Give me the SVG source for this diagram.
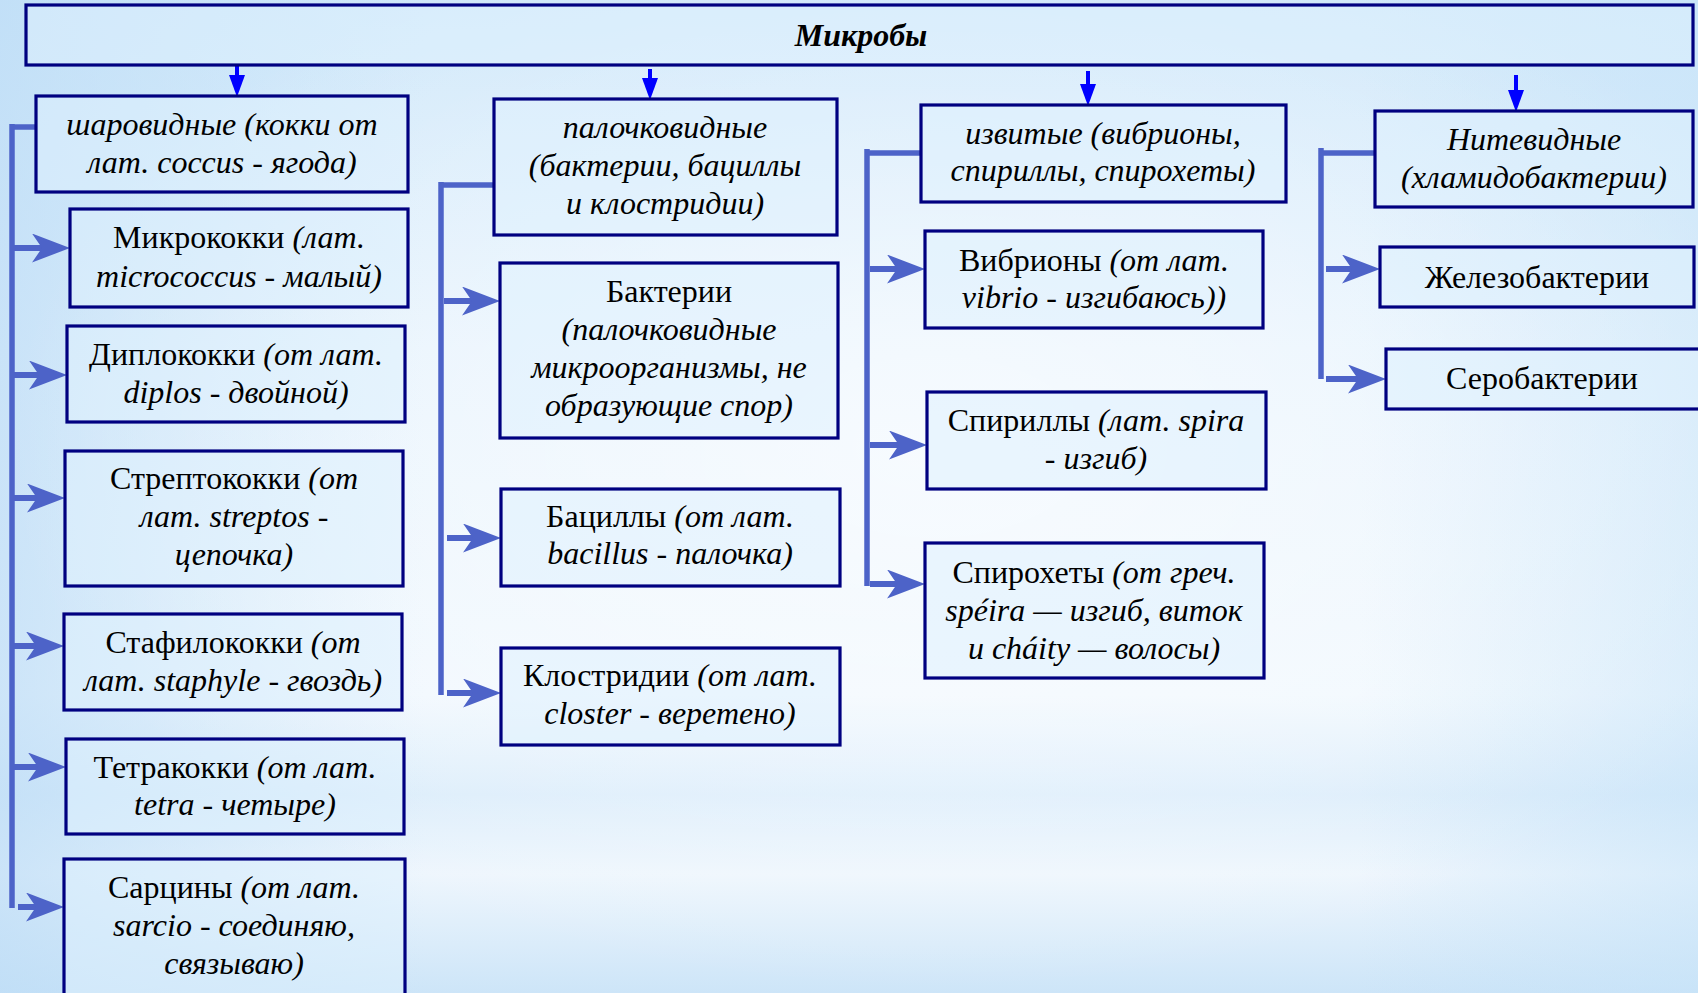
<svg xmlns="http://www.w3.org/2000/svg" width="1698" height="993" viewBox="0 0 1698 993">
<defs>
<linearGradient id="bgv" x1="0" y1="0" x2="0" y2="1">
<stop offset="0" stop-color="#d0e8fa"/>
<stop offset="0.35" stop-color="#e7f3fd"/>
<stop offset="0.7" stop-color="#f1f8fe"/>
<stop offset="0.8" stop-color="#dcedfb"/>
<stop offset="0.88" stop-color="#eef6fd"/>
<stop offset="1" stop-color="#cde5f8"/>
</linearGradient>
<radialGradient id="bgr" cx="0.55" cy="0.45" r="0.55">
<stop offset="0" stop-color="#ffffff" stop-opacity="0.6"/>
<stop offset="1" stop-color="#ffffff" stop-opacity="0"/>
</radialGradient>
<linearGradient id="bgl" x1="0" y1="0" x2="1" y2="0">
<stop offset="0" stop-color="#bcdcf6" stop-opacity="0.7"/>
<stop offset="0.25" stop-color="#bfdff7" stop-opacity="0"/>
<stop offset="0.8" stop-color="#bfdff7" stop-opacity="0"/>
<stop offset="1" stop-color="#c4e2f8" stop-opacity="0.5"/>
</linearGradient>
<marker id="ah" markerUnits="userSpaceOnUse" markerWidth="38" markerHeight="29" viewBox="0 0 38 29" refX="14" refY="14.5" orient="auto">
<path d="M0,0 L38,14.5 L0,29 L10,14.5 Z" fill="#4d63c8"/>
</marker>
<marker id="ab" markerUnits="userSpaceOnUse" markerWidth="22" markerHeight="16" viewBox="0 0 22 16" refX="2" refY="8" orient="auto">
<path d="M0,0 L22,8 L0,16 Z" fill="#0000ff"/>
</marker>
<style>
.box{fill:#dff0fd;fill-opacity:0.55;stroke:#000080;stroke-width:3.2}
.t{font-family:"Liberation Serif","Times New Roman",serif;font-size:32px;fill:#000;text-anchor:middle}
.i{font-style:italic}
.ttl{font-weight:bold;font-style:italic}
.cn{stroke:#4d63c8;fill:none}
.v{stroke-width:5.5}
.h{stroke-width:6}
.top{stroke:#0000ff;stroke-width:4;fill:none}
</style>
</defs>
<rect x="0" y="0" width="1698" height="993" fill="url(#bgv)"/>
<rect x="0" y="0" width="1698" height="993" fill="url(#bgl)"/>
<rect x="0" y="0" width="1698" height="993" fill="url(#bgr)"/>

<g id="connectors">
<line class="top" x1="237" y1="65" x2="237" y2="77" marker-end="url(#ab)"/>
<line class="top" x1="650" y1="69" x2="650" y2="80" marker-end="url(#ab)"/>
<line class="top" x1="1088" y1="71" x2="1088" y2="86" marker-end="url(#ab)"/>
<line class="top" x1="1516" y1="75" x2="1516" y2="92" marker-end="url(#ab)"/>

<path class="cn v" d="M12,124 V908"/>
<path class="cn v" d="M12,127 H36"/>
<line class="cn h" x1="14" y1="248" x2="46" y2="248" marker-end="url(#ah)"/>
<line class="cn h" x1="14" y1="375" x2="43" y2="375" marker-end="url(#ah)"/>
<line class="cn h" x1="14" y1="498" x2="41" y2="498" marker-end="url(#ah)"/>
<line class="cn h" x1="14" y1="646" x2="40" y2="646" marker-end="url(#ah)"/>
<line class="cn h" x1="14" y1="767" x2="42" y2="767" marker-end="url(#ah)"/>
<line class="cn h" x1="18" y1="907" x2="40" y2="907" marker-end="url(#ah)"/>

<path class="cn v" d="M441,182 V695"/>
<path class="cn v" d="M441,185 H494"/>
<line class="cn h" x1="444" y1="301" x2="476" y2="301" marker-end="url(#ah)"/>
<line class="cn h" x1="447" y1="538" x2="477" y2="538" marker-end="url(#ah)"/>
<line class="cn h" x1="447" y1="693" x2="477" y2="693" marker-end="url(#ah)"/>

<path class="cn v" d="M867,149 V586"/>
<path class="cn v" d="M867,153 H921"/>
<line class="cn h" x1="870" y1="269" x2="901" y2="269" marker-end="url(#ah)"/>
<line class="cn h" x1="870" y1="445" x2="903" y2="445" marker-end="url(#ah)"/>
<line class="cn h" x1="870" y1="584" x2="901" y2="584" marker-end="url(#ah)"/>

<path class="cn v" d="M1321,148 V379"/>
<path class="cn v" d="M1321,153 H1375"/>
<line class="cn h" x1="1326" y1="269" x2="1356" y2="269" marker-end="url(#ah)"/>
<line class="cn h" x1="1326" y1="379" x2="1362" y2="379" marker-end="url(#ah)"/>
</g>

<g id="root">
<rect class="box" x="26" y="5" width="1667" height="60"/>
<text class="t ttl" x="861" y="46">Микробы</text>
</g>

<g id="cocci">
<rect class="box" x="36" y="96" width="372" height="96"/>
<text class="t i" x="222" y="135">шаровидные (кокки от</text>
<text class="t i" x="222" y="173">лат. coccus - ягода)</text>
</g>
<g id="micrococci">
<rect class="box" x="70" y="209" width="338" height="98"/>
<text class="t" x="239" y="248">Микрококки <tspan class="i">(лат.</tspan></text>
<text class="t i" x="239" y="287">micrococcus - малый)</text>
</g>
<g id="diplococci">
<rect class="box" x="67" y="326" width="338" height="96"/>
<text class="t" x="236" y="365">Диплококки <tspan class="i">(от лат.</tspan></text>
<text class="t i" x="236" y="403">diplos - двойной)</text>
</g>
<g id="streptococci">
<rect class="box" x="65" y="451" width="338" height="135"/>
<text class="t" x="234" y="489">Стрептококки <tspan class="i">(от</tspan></text>
<text class="t i" x="234" y="527">лат. streptos -</text>
<text class="t i" x="234" y="565">цепочка)</text>
</g>
<g id="staphylococci">
<rect class="box" x="64" y="614" width="338" height="96"/>
<text class="t" x="233" y="653">Стафилококки <tspan class="i">(от</tspan></text>
<text class="t i" x="233" y="691">лат. staphyle - гвоздь)</text>
</g>
<g id="tetracocci">
<rect class="box" x="66" y="739" width="338" height="95"/>
<text class="t" x="235" y="778">Тетракокки <tspan class="i">(от лат.</tspan></text>
<text class="t i" x="235" y="815">tetra - четыре)</text>
</g>
<g id="sarcina">
<rect class="box" x="64" y="859" width="341" height="150"/>
<text class="t" x="234" y="898">Сарцины <tspan class="i">(от лат.</tspan></text>
<text class="t i" x="234" y="936">sarcio - соединяю,</text>
<text class="t i" x="234" y="974">связываю)</text>
</g>

<g id="rods">
<rect class="box" x="494" y="99" width="343" height="136"/>
<text class="t i" x="665" y="138">палочковидные</text>
<text class="t i" x="665" y="176">(бактерии, бациллы</text>
<text class="t i" x="665" y="214">и клостридии)</text>
</g>
<g id="bacteria">
<rect class="box" x="500" y="263" width="338" height="175"/>
<text class="t" x="669" y="302">Бактерии</text>
<text class="t i" x="669" y="340">(палочковидные</text>
<text class="t i" x="669" y="378">микроорганизмы, не</text>
<text class="t i" x="669" y="416">образующие спор)</text>
</g>
<g id="bacilli">
<rect class="box" x="501" y="489" width="339" height="97"/>
<text class="t" x="670" y="527">Бациллы <tspan class="i">(от лат.</tspan></text>
<text class="t i" x="670" y="564">bacillus - палочка)</text>
</g>
<g id="clostridia">
<rect class="box" x="501" y="648" width="339" height="97"/>
<text class="t" x="670" y="686">Клостридии <tspan class="i">(от лат.</tspan></text>
<text class="t i" x="670" y="724">closter - веретено)</text>
</g>

<g id="spiral">
<rect class="box" x="921" y="105" width="365" height="97"/>
<text class="t i" x="1103" y="144">извитые (вибрионы,</text>
<text class="t i" x="1103" y="181">спириллы, спирохеты)</text>
</g>
<g id="vibrio">
<rect class="box" x="925" y="231" width="338" height="97"/>
<text class="t" x="1094" y="271">Вибрионы <tspan class="i">(от лат.</tspan></text>
<text class="t i" x="1094" y="308">vibrio - изгибаюсь))</text>
</g>
<g id="spirilla">
<rect class="box" x="927" y="392" width="339" height="97"/>
<text class="t" x="1096" y="431">Спириллы <tspan class="i">(лат. spira</tspan></text>
<text class="t" x="1096" y="469">- <tspan class="i">изгиб)</tspan></text>
</g>
<g id="spirochetes">
<rect class="box" x="925" y="543" width="339" height="135"/>
<text class="t" x="1094" y="583">Спирохеты <tspan class="i">(от греч.</tspan></text>
<text class="t i" x="1094" y="621">spéira — изгиб, виток</text>
<text class="t i" x="1094" y="659">и cháity — волосы)</text>
</g>

<g id="filamentous">
<rect class="box" x="1375" y="111" width="318" height="96"/>
<text class="t i" x="1534" y="150">Нитевидные</text>
<text class="t i" x="1534" y="188">(хламидобактерии)</text>
</g>
<g id="iron">
<rect class="box" x="1380" y="247" width="314" height="60"/>
<text class="t" x="1537" y="288">Железобактерии</text>
</g>
<g id="sulfur">
<rect class="box" x="1386" y="349" width="320" height="60"/>
<text class="t" x="1542" y="389">Серобактерии</text>
</g>
</svg>
